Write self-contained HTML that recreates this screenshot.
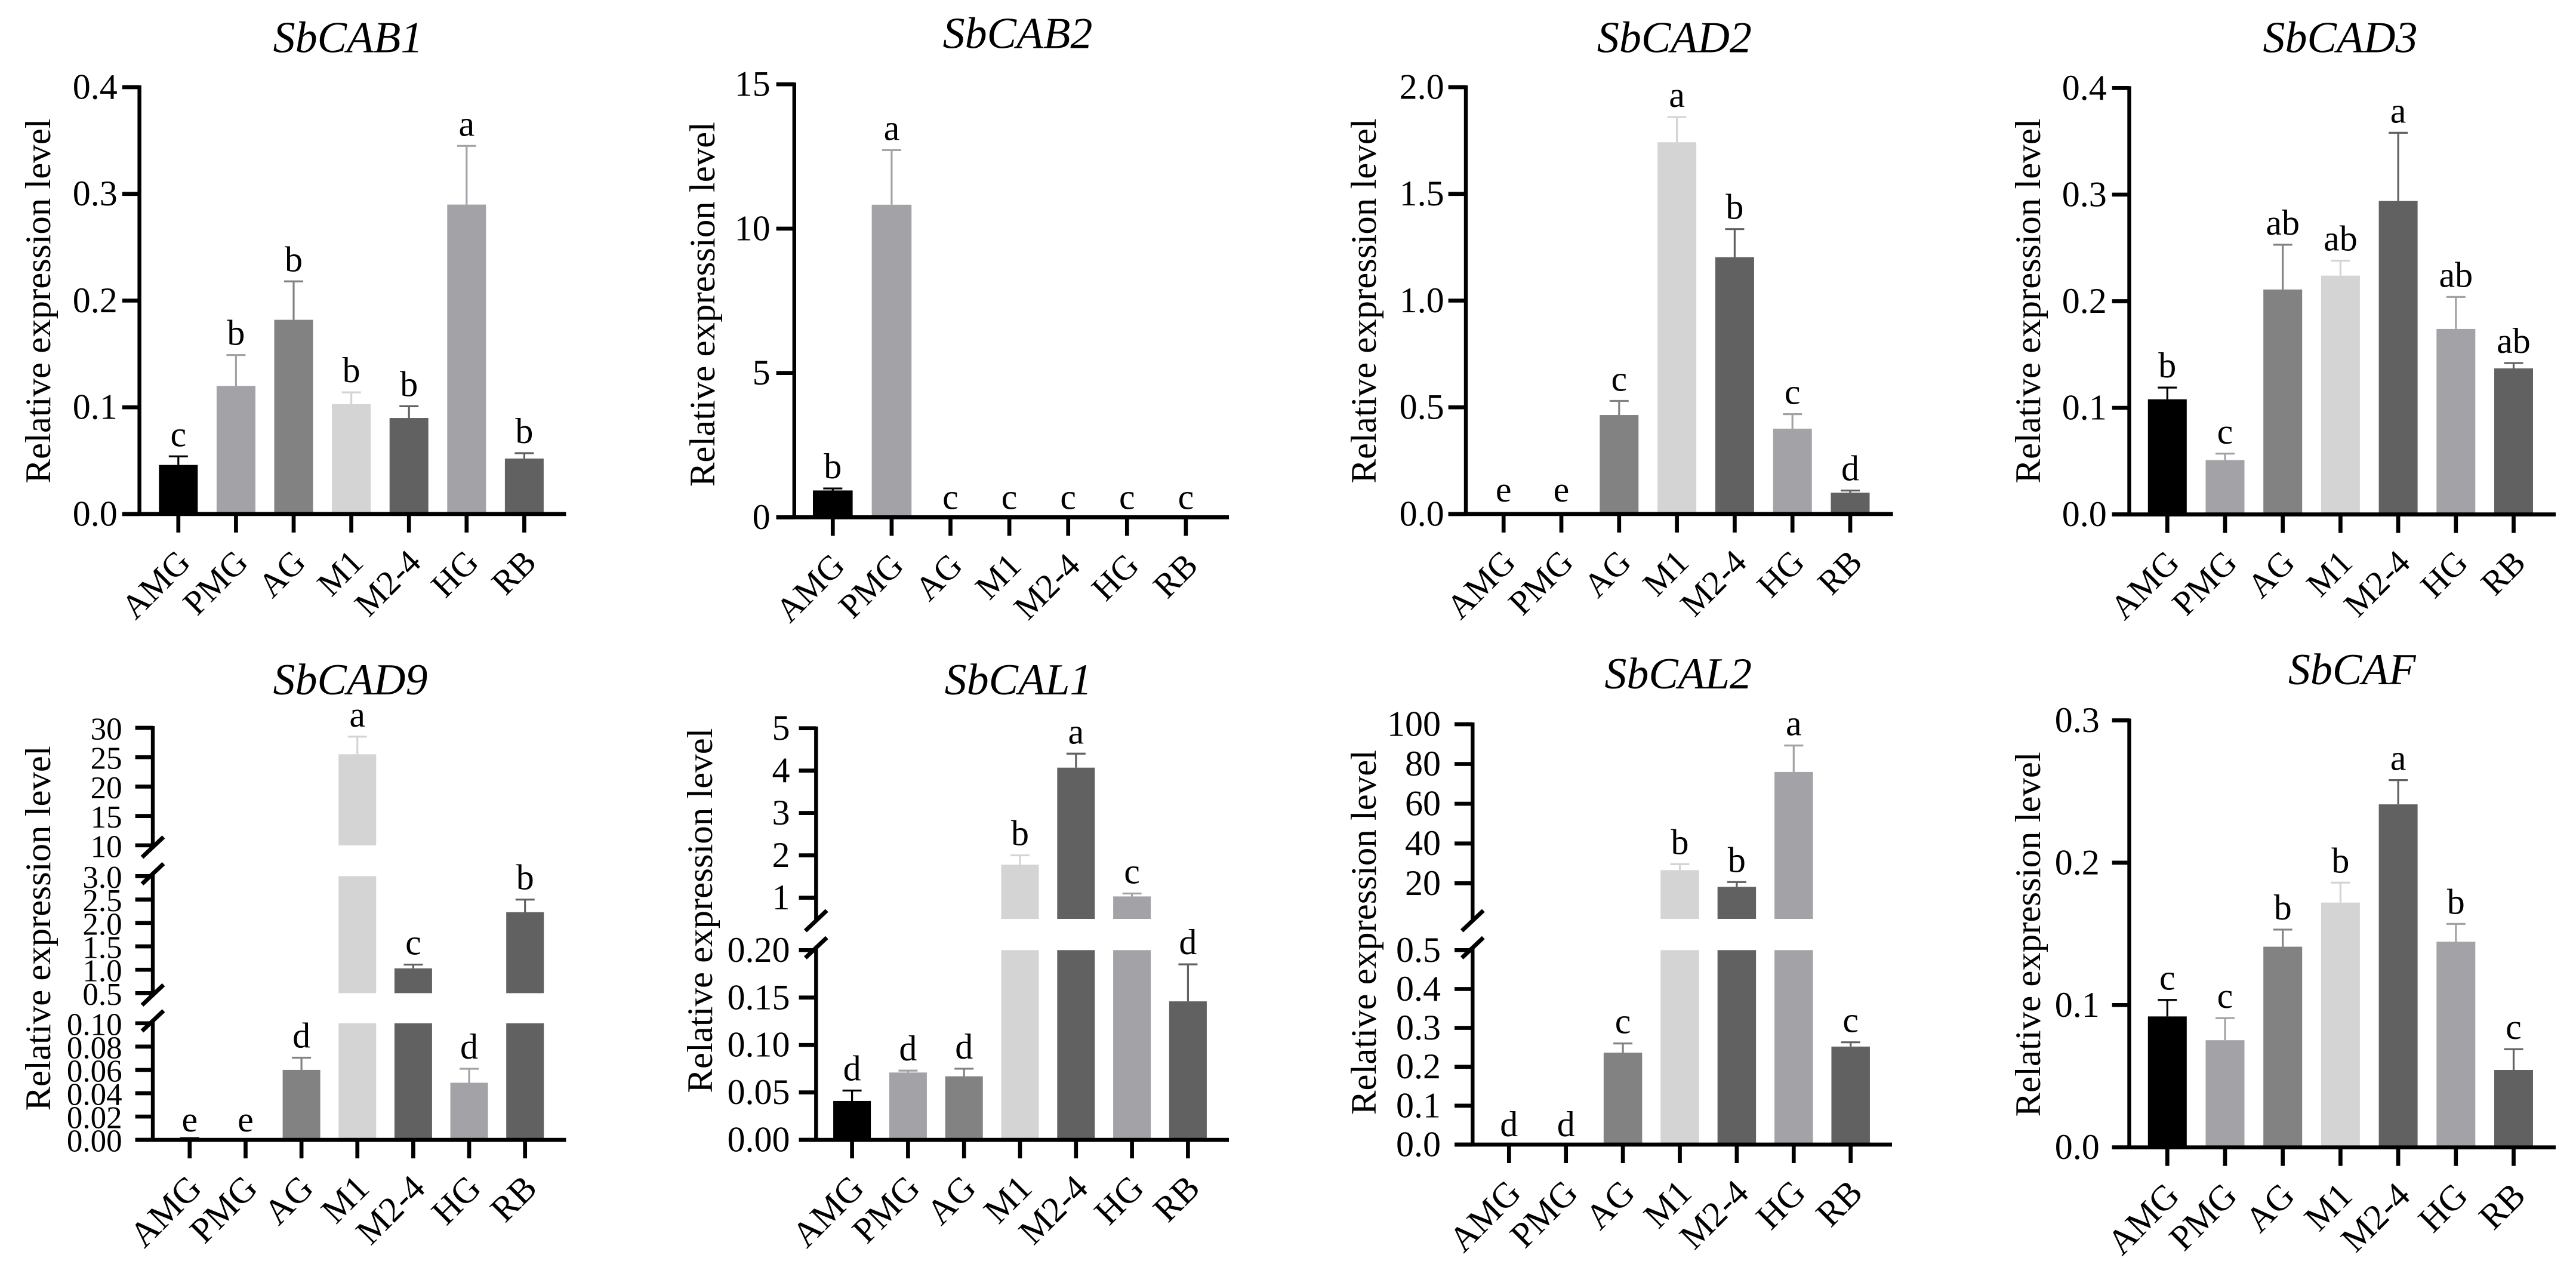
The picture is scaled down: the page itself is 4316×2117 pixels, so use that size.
<!DOCTYPE html>
<html lang="en">
<head>
<meta charset="utf-8">
<title>Relative expression level of Sb genes</title>
<style>
html,body{margin:0;padding:0;background:#fff;}
svg{display:block;font-family:"Liberation Serif",serif;fill:#000;}
</style>
</head>
<body>
<svg id="figure" xmlns="http://www.w3.org/2000/svg" width="4316" height="2117" viewBox="0 0 4316 2117">
<rect x="0" y="0" width="4316" height="2117" fill="#ffffff"/>
</svg>
<script>
const categories = ['AMG','PMG','AG','M1','M2-4','HG','RB'];
const barColors = ['#000000','#a3a3a7','#828282','#d4d4d4','#616161','#a3a3a7','#616161'];

const cab1Values = [0.046,0.120,0.182,0.103,0.090,0.290,0.052];
const cab1Errors = [0.008,0.029,0.036,0.011,0.011,0.055,0.005];
const cab1Letters = ['c','b','b','b','b','a','b'];
const cab1Ticks = [0,0.1,0.2,0.3,0.4];
const cab1TickLabels = ['0.0','0.1','0.2','0.3','0.4'];

const cab2Values = [0.93,10.83,0,0,0,0,0];
const cab2Errors = [0.07,1.89,0,0,0,0,0];
const cab2Letters = ['b','a','c','c','c','c','c'];
const cab2Ticks = [0,5,10,15];
const cab2TickLabels = ['0','5','10','15'];

const cad2Values = [0,0,0.464,1.742,1.203,0.400,0.100];
const cad2Errors = [0,0,0.066,0.118,0.132,0.068,0.010];
const cad2Letters = ['e','e','c','a','b','c','d'];
const cad2Ticks = [0,0.5,1,1.5,2];
const cad2TickLabels = ['0.0','0.5','1.0','1.5','2.0'];

const cad3Values = [0.108,0.051,0.211,0.224,0.294,0.174,0.137];
const cad3Errors = [0.011,0.006,0.042,0.014,0.064,0.030,0.005];
const cad3Letters = ['b','c','ab','ab','a','ab','ab'];
const cad3Ticks = [0,0.1,0.2,0.3,0.4];
const cad3TickLabels = ['0.0','0.1','0.2','0.3','0.4'];

const cad9Values = [0.0012,0,0.060,25.5,1.03,0.049,2.23];
const cad9Errors = [0.0003,0,0.0105,3.0,0.08,0.012,0.27];
const cad9Letters = ['e','e','d','a','c','d','b'];
const cad9Ticks = [0,0.02,0.04,0.06,0.08,0.10,0.5,1,1.5,2,2.5,3,10,15,20,25,30];
const cad9TickLabels = ['0.00','0.02','0.04','0.06','0.08','0.10','0.5','1.0','1.5','2.0','2.5','3.0','10','15','20','25','30'];

const cal1Values = [0.041,0.071,0.067,1.78,4.07,1.03,0.146];
const cal1Errors = [0.011,0.002,0.008,0.22,0.33,0.07,0.039];
const cal1Letters = ['d','d','d','b','a','c','d'];
const cal1Ticks = [0,0.05,0.10,0.15,0.20,1,2,3,4,5];
const cal1TickLabels = ['0.00','0.05','0.10','0.15','0.20','1','2','3','4','5'];

const cal2Values = [0,0,0.2365,26.6,18.2,76,0.252];
const cal2Errors = [0,0,0.0235,3.0,2.4,13.3,0.011];
const cal2Letters = ['d','d','c','b','b','a','c'];
const cal2Ticks = [0,0.1,0.2,0.3,0.4,0.5,20,40,60,80,100];
const cal2TickLabels = ['0.0','0.1','0.2','0.3','0.4','0.5','20','40','60','80','100'];

const cafValues = [0.092,0.0753,0.141,0.172,0.241,0.1445,0.0544];
const cafErrors = [0.0116,0.0155,0.012,0.014,0.017,0.0125,0.0146];
const cafLetters = ['c','c','b','b','a','b','c'];
const cafTicks = [0,0.1,0.2,0.3];
const cafTickLabels = ['0.0','0.1','0.2','0.3'];

const SVG_NS = 'http://www.w3.org/2000/svg';
const figure = document.getElementById('figure');

const panels = [
  {key:'sbcab1', title:'SbCAB1', values:cab1Values, errors:cab1Errors, letters:cab1Letters, ticks:cab1Ticks, tickLabels:cab1TickLabels,
   axisX:233.6, firstX:298.8, stepX:96.6, rightX:948.4, tickLeft:204.8, barW:65, titleX:583, titleY:87.5, yTitleX:84, yTitleY:504, tickFont:60, tickGap:8, zeroGap:14, xFont:57.5,
   segs:[{lo:0,hi:0.4,yLo:860.9,yHi:146}]},
  {key:'sbcab2', title:'SbCAB2', values:cab2Values, errors:cab2Errors, letters:cab2Letters, ticks:cab2Ticks, tickLabels:cab2TickLabels,
   axisX:1330.8, firstX:1395.3, stepX:98.6, rightX:2059, tickLeft:1300.6, barW:66.6, titleX:1705, titleY:80.6, yTitleX:1196.8, yTitleY:509.6, tickFont:60, tickGap:10, zeroGap:14, xFont:57.5,
   segs:[{lo:0,hi:15,yLo:866.4,yHi:141.2}]},
  {key:'sbcad2', title:'SbCAD2', values:cad2Values, errors:cad2Errors, letters:cad2Letters, ticks:cad2Ticks, tickLabels:cad2TickLabels,
   axisX:2456, firstX:2519.2, stepX:96.8, rightX:3171.6, tickLeft:2426.6, barW:65, titleX:2805.4, titleY:87.5, yTitleX:2305, yTitleY:504, tickFont:60, tickGap:7, zeroGap:21, xFont:57.5,
   segs:[{lo:0,hi:2,yLo:860.9,yHi:146}]},
  {key:'sbcad3', title:'SbCAD3', values:cad3Values, errors:cad3Errors, letters:cad3Letters, ticks:cad3Ticks, tickLabels:cad3TickLabels,
   axisX:3567.5, firstX:3631.3, stepX:96.7, rightX:4282, tickLeft:3538.7, barW:65, titleX:3921, titleY:87.5, yTitleX:3418, yTitleY:504, tickFont:60, tickGap:9, zeroGap:14, xFont:57.5,
   segs:[{lo:0,hi:0.4,yLo:861.6,yHi:147.4}]},
  {key:'sbcad9', title:'SbCAD9', values:cad9Values, errors:cad9Errors, letters:cad9Letters, ticks:cad9Ticks, tickLabels:cad9TickLabels,
   axisX:256, firstX:317.8, stepX:93.65, rightX:948.4, tickLeft:226.6, barW:63, titleX:587, titleY:1162.8, yTitleX:84, yTitleY:1554.8, tickFont:53, tickGap:22, zeroGap:14, xFont:60,
   segs:[{lo:0,hi:0.1,yLo:1909.1,yHi:1713.8},{lo:0.5,hi:3,yLo:1663.4,yHi:1467.4},{lo:10,hi:30,yLo:1415.8,yHi:1219}]},
  {key:'sbcal1', title:'SbCAL1', values:cal1Values, errors:cal1Errors, letters:cal1Letters, ticks:cal1Ticks, tickLabels:cal1TickLabels,
   axisX:1367.3, firstX:1427.6, stepX:93.8, rightX:2059, tickLeft:1338.5, barW:63, titleX:1706, titleY:1162.8, yTitleX:1193, yTitleY:1525, tickFont:60, tickGap:15, zeroGap:14, xFont:60,
   segs:[{lo:0,hi:0.2,yLo:1909.1,yHi:1591.3},{lo:0.5,hi:5,yLo:1539,yHi:1219.7}]},
  {key:'sbcal2', title:'SbCAL2', values:cal2Values, errors:cal2Errors, letters:cal2Letters, ticks:cal2Ticks, tickLabels:cal2TickLabels,
   axisX:2467.3, firstX:2528.3, stepX:95.4, rightX:3170, tickLeft:2437, barW:64.5, titleX:2811.7, titleY:1152.8, yTitleX:2305, yTitleY:1561.5, tickFont:60, tickGap:23, zeroGap:14, xFont:60,
   segs:[{lo:0,hi:0.5,yLo:1917,yHi:1591.3},{lo:2.07,hi:100,yLo:1539,yHi:1213}]},
  {key:'sbcaf', title:'SbCAF', values:cafValues, errors:cafErrors, letters:cafLetters, ticks:cafTicks, tickLabels:cafTickLabels,
   axisX:3567.5, firstX:3631.3, stepX:96.7, rightX:4282, tickLeft:3538.7, barW:65, titleX:3940.7, titleY:1146, yTitleX:3418, yTitleY:1564.8, tickFont:60, tickGap:21, zeroGap:14, xFont:60,
   segs:[{lo:0,hi:0.3,yLo:1921.7,yHi:1206.5}]}
];

function makeYScale(segs) {
  return function (v) {
    let seg = segs[segs.length - 1];
    for (const s of segs) { if (v <= s.hi) { seg = s; break; } }
    return seg.yLo + (v - seg.lo) / (seg.hi - seg.lo) * (seg.yHi - seg.yLo);
  };
}
function makeXScale(p) {
  return function (i) { return p.firstX + i * p.stepX; };
}
function node(parent, tag, attrs) {
  const el = document.createElementNS(SVG_NS, tag);
  for (const k in attrs) el.setAttribute(k, attrs[k]);
  parent.appendChild(el);
  return el;
}
function strokeLine(parent, x1, y1, x2, y2, color, width) {
  return node(parent, 'line', {x1:x1, y1:y1, x2:x2, y2:y2, stroke:color, 'stroke-width':width});
}

panels.forEach(function (p) {
  const y = makeYScale(p.segs);
  const x = makeXScale(p);
  const y0 = p.segs[0].yLo;

  const g = node(figure, 'g', {});
  
  

  const title = node(g, 'text', {x:p.titleX, y:p.titleY, 'text-anchor':'middle', 'font-size':74, 'font-style':'italic'});
  title.textContent = p.title;
  
  

  const yTitle = node(g, 'text', {x:p.yTitleX, y:p.yTitleY, 'text-anchor':'middle', 'font-size':60.8,
    transform:'rotate(-90 ' + p.yTitleX + ' ' + p.yTitleY + ')'});
  yTitle.textContent = 'Relative expression level';
  
  

  categories.forEach(function (cat, i) {
    const v = p.values[i];
    const e = p.errors[i];
    const cx = x(i);
    const color = barColors[i];

    p.segs.forEach(function (s) {
      if (v > s.lo) {
        const top = y(Math.min(v, s.hi));
        const segTop = v > s.hi ? s.yHi : top;
        const rect = node(g, 'rect', {x:cx - p.barW / 2, y:segTop, width:p.barW, height:s.yLo - segTop, fill:color});
        
        
      }
    });

    if (e > 0) {
      const errLine = strokeLine(g, cx, y(v), cx, y(v + e), color, 3.2);
      
      
      const errCap = strokeLine(g, cx - 16, y(v + e), cx + 16, y(v + e), color, 3.2);
      
      
    }

    const markTop = y(v + e);
    const letterY = (y0 - markTop < 8) ? y0 - p.zeroGap : markTop - 17;
    const letter = node(g, 'text', {x:cx, y:letterY, 'text-anchor':'middle', 'font-size':60});
    letter.textContent = p.letters[i];
    
    

    const xTick = strokeLine(g, cx, y0, cx, y0 + 31, '#000', 6.7);
    
    

    const lx = cx + 23;
    const ly = y0 + 84;
    const xLabel = node(g, 'text', {x:lx, y:ly, 'text-anchor':'end', 'font-size':p.xFont,
      transform:'rotate(-45 ' + lx + ' ' + ly + ')'});
    xLabel.textContent = cat;
    
    
  });

  const xAxis = strokeLine(g, p.tickLeft, y0, p.rightX, y0, '#000', 6.7);
  
  

  p.segs.forEach(function (s, i) {
    const yAxis = strokeLine(g, p.axisX, s.yLo + 3, p.axisX, s.yHi - 3, '#000', 6.4);
    
    
    if (i > 0) {
      const lower = strokeLine(g, p.axisX - 18, s.yLo + 20, p.axisX + 18, s.yLo - 14, '#000', 7);
      
      
    }
    if (i < p.segs.length - 1) {
      const upper = strokeLine(g, p.axisX - 18, s.yHi + 13, p.axisX + 18, s.yHi - 21, '#000', 7);
      
      
    }
  });

  p.ticks.forEach(function (t, i) {
    const ty = y(t);
    const yTick = strokeLine(g, p.tickLeft, ty, p.axisX, ty, '#000', 6.7);
    
    
    const yLabel = node(g, 'text', {x:p.tickLeft - p.tickGap, y:ty + 19.5, 'text-anchor':'end', 'font-size':p.tickFont});
    yLabel.textContent = p.tickLabels[i];
    
    
  });
});
</script>
</body>
</html>
